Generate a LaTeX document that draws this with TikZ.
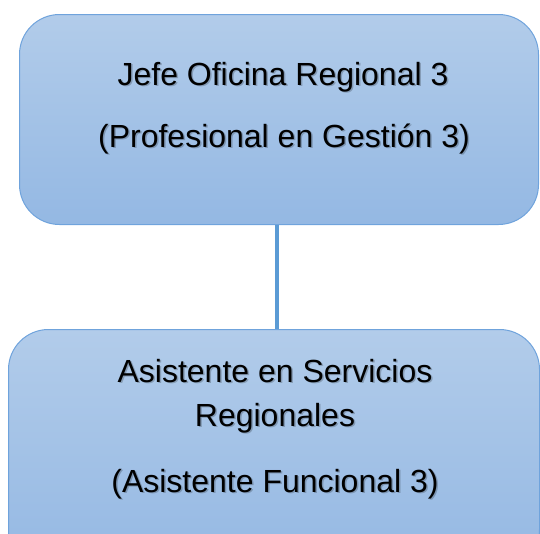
\documentclass[tikz,border=0pt]{standalone}
\usepackage{fontspec}
\setmainfont{Liberation Sans}
\begin{document}
\begin{tikzpicture}[x=1pt,y=-1pt,
  box/.style={draw=boxedge, line width=1pt, rounded corners=40pt, top color=boxtop, bottom color=boxbot},
  lbl/.style={anchor=base, inner sep=0pt, font=\fontsize{32}{38}\selectfont, text=black},
  shd/.style={lbl, text=black, opacity=0.22},
  conn/.style={draw=connc, line width=4pt}]
\definecolor{boxedge}{HTML}{6FA3DC}
\definecolor{boxtop}{HTML}{B2CCEA}
\definecolor{boxbot}{HTML}{94B8E3}
\definecolor{connc}{HTML}{5B9BD5}
\useasboundingbox (0,0) rectangle (540,533);
\clip (0,0) rectangle (540,533);
\node[box, minimum width=519pt, minimum height=210pt, anchor=north west] (top) at (19,14) {};
\node[box, minimum width=531pt, minimum height=240pt, anchor=north west] (bot) at (8,329) {};
\draw[conn] (top.south -| 277,0) -- (bot.north -| 277,0);
\foreach \n/\x/\y/\t in {t1/283/85/{Jefe Oficina Regional 3}, t2/284/147/{(Profesional en Gestión 3)}, b1/275/382/{Asistente en Servicios}, b2/275/426/{Regionales}, b3/275/492/{(Asistente Funcional 3)}}{
  \node[shd] (\n s) at (\x+1.5,\y+1.5) {\t};
  \node[lbl] (\n) at (\x,\y) {\t};
}
\end{tikzpicture}
\end{document}
